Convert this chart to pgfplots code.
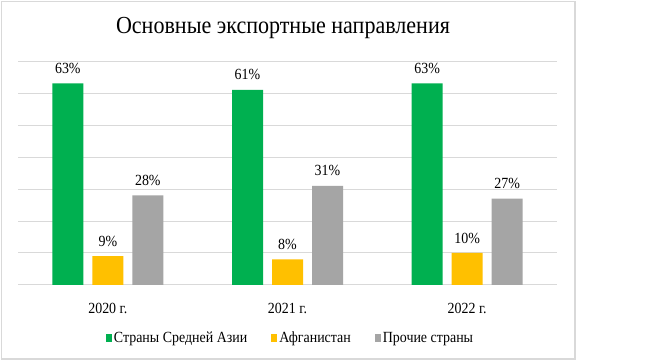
\documentclass[border=0pt]{standalone}
\usepackage{pgfplots}
\pgfplotsset{compat=1.18}
\usepackage{fontspec}
\setmainfont{Liberation Serif}[FakeStretch=0.9]
\definecolor{cgreen}{HTML}{00B050}
\definecolor{cyellow}{HTML}{FFC000}
\definecolor{cgray}{HTML}{A5A5A5}
\definecolor{cgrid}{HTML}{D9D9D9}
\newcommand\lblfont{\rmfamily\fontsize{15.5}{18}\selectfont}
\newcommand\ttlfont{\rmfamily\fontsize{24.5}{29}\selectfont}
\begin{document}
\begin{tikzpicture}[x=1pt,y=1pt]
\path[fill=white] (0,0) rectangle (648,364);
\draw[cgrid, line width=1.2pt] (1.5,5) rectangle (575,362.5);
\node[font=\ttlfont] at (283,336) {Основные экспортные направления};
\begin{axis}[
  at={(18pt,79pt)}, anchor=south west,
  scale only axis, width=539pt, height=224pt,
  xmin=-0.5, xmax=2.5, ymin=0, ymax=70,
  ybar=9pt, bar width=31pt,
  axis line style={draw=none},
  tick style={draw=none},
  ytick={0,10,...,70}, yticklabels={},
  ymajorgrids, grid style={cgrid, line width=1pt},
  xtick={0,1,2}, xticklabels={2020 г.,2021 г.,2022 г.},
  /pgf/number format/assume math mode=true,
  xticklabel style={font=\lblfont, anchor=center, yshift=-19pt},
  nodes near coords={\pgfmathprintnumber{\pgfplotspointmeta}\%},
  nodes near coords style={font=\lblfont, anchor=center, yshift=15pt},
  legend style={at={(0.5056,-0.2366)}, anchor=center, draw=none, legend columns=3,
    font=\lblfont, nodes={inner xsep=2pt},
    /tikz/every even column/.append style={column sep=22pt}},
  legend image code/.code={\fill[#1] (0pt,-4pt) rectangle (6pt,4pt);},
]
\addplot[fill=cgreen, draw=none] coordinates {(0,63) (1,61) (2,63)};
\addplot[fill=cyellow, draw=none] coordinates {(0,9) (1,8) (2,10)};
\addplot[fill=cgray, draw=none] coordinates {(0,28) (1,31) (2,27)};
\legend{Страны Средней Азии, Афганистан, Прочие страны}
\end{axis}
\end{tikzpicture}
\end{document}
